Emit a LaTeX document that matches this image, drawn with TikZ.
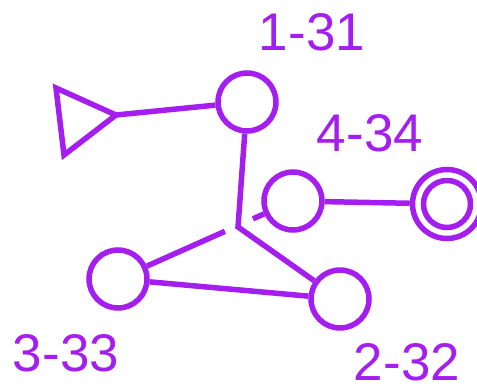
\documentclass[tikz,border=0pt]{standalone}
\usepackage{fontspec}
\setmainfont{Liberation Sans}
\usetikzlibrary{calc}
\definecolor{purp}{RGB}{164,30,240}
\begin{document}
\begin{tikzpicture}[x=1pt,y=-1pt,
  ln/.style={draw=purp,line width=5.5pt},
  ring/.style={circle,draw=purp,line width=5.5pt,minimum size=58pt,inner sep=0pt},
  lbl/.style={text=purp,font=\fontsize{53}{58}\selectfont,inner sep=0pt}]
\useasboundingbox (0,0) rectangle (477,390);
% nodes
\node[ring] (c1) at (247,102) {};
\node[ring] (c4) at (293,201) {};
\node[ring] (c3) at (118,279) {};
\node[ring] (c2) at (340,299) {};
\node[circle,draw=purp,line width=5.5pt,minimum size=69pt,inner sep=0pt] (dc) at (447,204) {};
\node[circle,draw=purp,line width=5.5pt,minimum size=47pt,inner sep=0pt] (dci) at (447,204) {};
% triangle
\coordinate (tA) at (56,88);
\coordinate (tip) at (116,115);
\coordinate (tC) at (64,155);
\draw[ln,line join=miter] (tA) -- (tip) -- (tC) -- cycle;
% junction and gap
\coordinate (j) at (238,227);
\coordinate (g1) at ($(c3.center)!0.611!(c4.center)$);
\coordinate (g2) at ($(c3.center)!0.771!(c4.center)$);
% connectors
\draw[ln] (tip) -- (c1);
\draw[ln] (c1) -- (j) -- (c2);
\draw[ln] (c3) -- (g1);
\draw[ln] (g2) -- (c4);
\draw[ln] (c3) -- (c2);
\draw[ln] (c4) -- (dc);
% labels
\node[lbl] (l1) at (312,32) {1-31};
\node[lbl] (l4) at (370,133) {4-34};
\node[lbl] (l3) at (66,353) {3-33};
\node[lbl] (l2) at (407,362) {2-32};
\end{tikzpicture}
\end{document}
